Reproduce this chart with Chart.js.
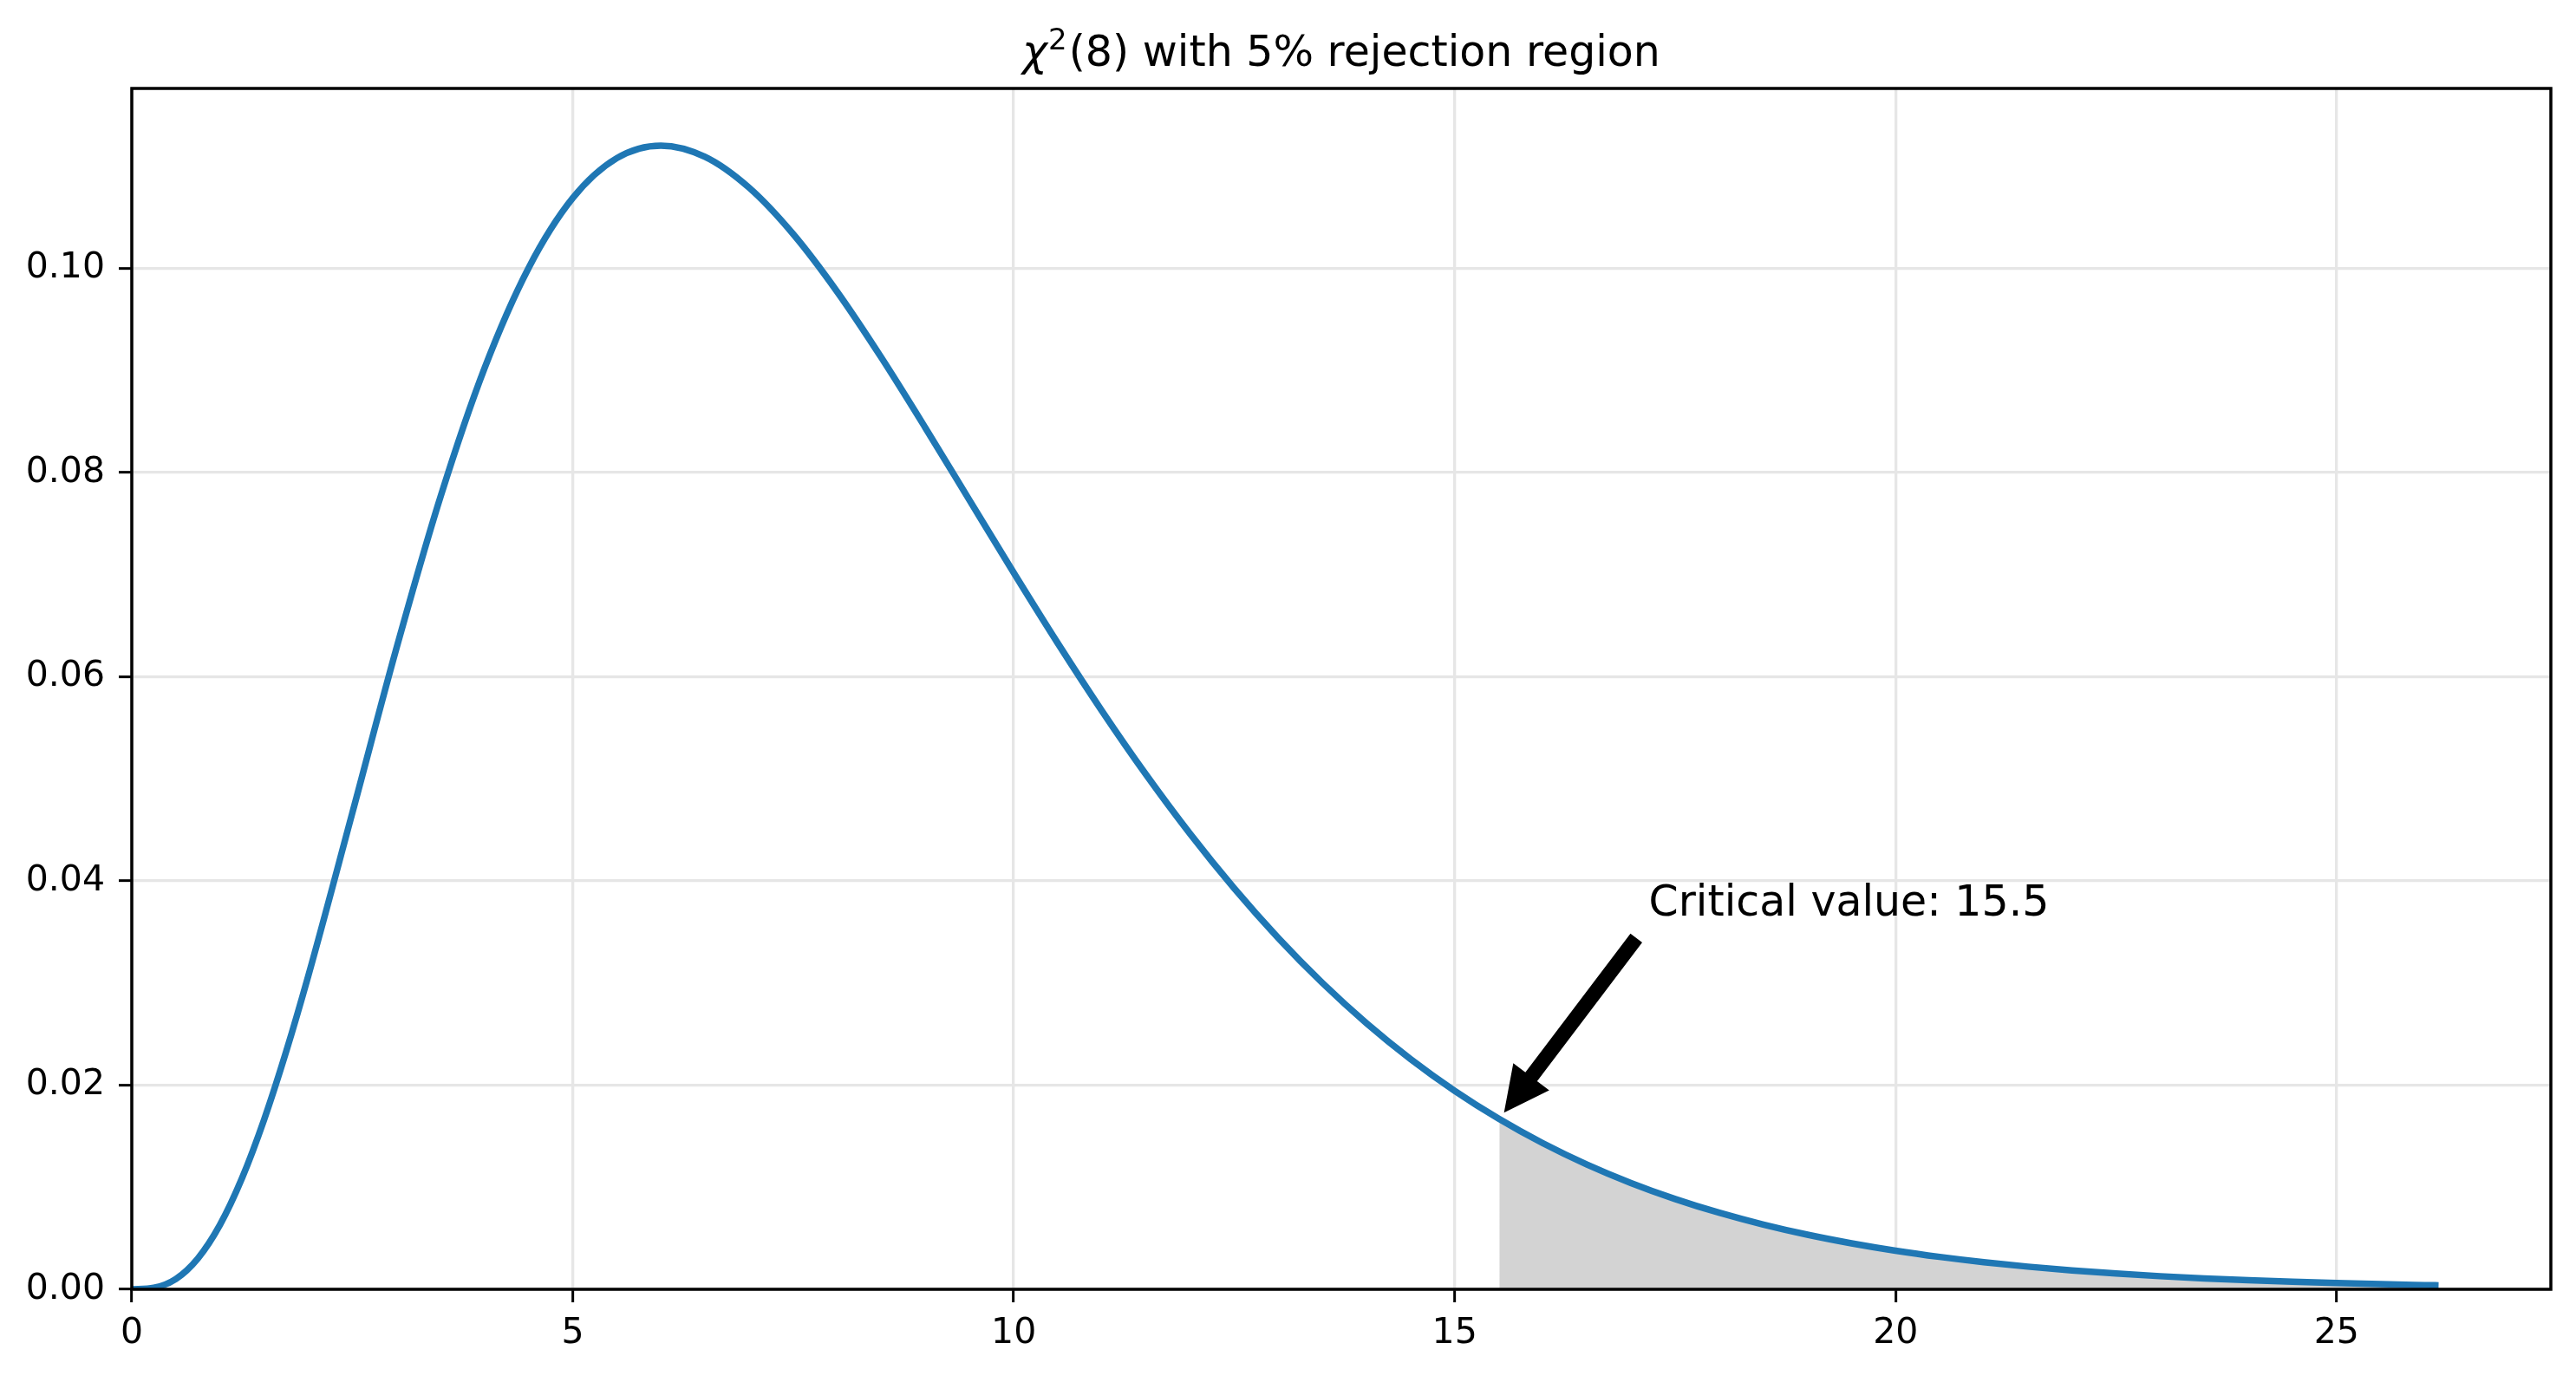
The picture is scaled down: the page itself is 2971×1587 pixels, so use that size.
<!DOCTYPE html>
<html>
<head>
<meta charset="utf-8">
<script src="https://cdn.jsdelivr.net/npm/chart.js@4/dist/chart.umd.min.js"></script>
<style>
  html, body { margin: 0; padding: 0; background: #ffffff; }
  #wrap { width: 2971px; height: 1587px; position: relative; }
  canvas { display: block; }
</style>
</head>
<body>
<div id="wrap"><canvas id="c" width="2971" height="1587"></canvas></div>
<script>
// ---- Data ----
const curveX = [0, 0.25, 0.5, 0.75, 1, 1.25, 1.5, 1.75, 2, 2.5, 3, 3.5, 4, 4.5, 5, 5.5, 6, 6.5, 7, 7.5, 8, 8.5, 9, 9.5,
  10, 10.5, 11, 11.5, 12, 12.5, 13, 13.5, 14, 14.5, 15, 15.5, 16, 16.5, 17, 17.5, 18, 18.5, 19, 19.5,
  20, 20.5, 21, 21.5, 22, 22.5, 23, 23.5, 24, 24.5, 25, 25.5, 26, 26.12];
const curveY = [0, 0.000144, 0.001014, 0.003034, 0.006318, 0.010890, 0.016607, 0.023272, 0.030657, 0.046632, 0.062755, 0.077610,
  0.090223, 0.100047, 0.106882, 0.110792, 0.112021, 0.110920, 0.107893, 0.103350, 0.097686, 0.091249,
  0.084359, 0.077268, 0.070187, 0.063278, 0.056662, 0.050423, 0.044618, 0.039276, 0.034406, 0.030009,
  0.026065, 0.022553, 0.019444, 0.016709, 0.014313, 0.012225, 0.010413, 0.008846, 0.007497, 0.006339,
  0.005348, 0.004503, 0.003783, 0.003173, 0.002656, 0.002220, 0.001853, 0.001543, 0.001284, 0.001067,
  0.000885, 0.000733, 0.000607, 0.000501, 0.000414, 0.000395];
const regionX = [15.507, 16, 16.5, 17, 17.5, 18, 18.5, 19, 19.5, 20, 20.5, 21, 21.5, 22, 22.5, 23, 23.5,
  24, 24.5, 25, 25.5, 26, 26.12];
const regionY = [0.016673, 0.014313, 0.012225, 0.010413, 0.008846, 0.007497, 0.006339, 0.005348, 0.004503,
  0.003783, 0.003173, 0.002656, 0.002220, 0.001853, 0.001543, 0.001284, 0.001067, 0.000885, 0.000733,
  0.000607, 0.000501, 0.000414, 0.000395];
const xTicks = [0, 5, 10, 15, 20, 25];
const yTicks = [0, 0.02, 0.04, 0.06, 0.08, 0.10];
const xRange = [0, 27.43];
const yRange = [0, 0.11762];
const titleParts = { chi: "χ", sup: "2", rest: "(8) with 5% rejection region" };
const annotationText = "Critical value: 15.5";
const annotationTextAt = [17.2, 0.0366];
const arrowFrom = [17.06, 0.0344];
const arrowTo = [15.56, 0.0173];

// ---- Styling ----
const FONT = "'DejaVu Sans', sans-serif";
const curvePts = curveX.map((x, i) => ({ x: x, y: curveY[i] }));
const regionPts = regionX.map((x, i) => ({ x: x, y: regionY[i] }));

const framePlugin = {
  id: 'frame',
  afterDraw(chart) {
    const ctx = chart.ctx;
    const a = chart.chartArea;
    const xs = chart.scales.x, ys = chart.scales.y;
    ctx.save();
    // frame
    ctx.strokeStyle = '#000000';
    ctx.lineWidth = 3.5;
    ctx.strokeRect(a.left, a.top, a.right - a.left, a.bottom - a.top);
    // arrow
    const tx = xs.getPixelForValue(arrowFrom[0]), ty = ys.getPixelForValue(arrowFrom[1]);
    const hx = xs.getPixelForValue(arrowTo[0]), hy = ys.getPixelForValue(arrowTo[1]);
    const dx = hx - tx, dy = hy - ty;
    const L = Math.sqrt(dx * dx + dy * dy);
    const ux = dx / L, uy = dy / L;
    const nx = -uy, ny = ux;
    const shaftW = 17, headW = 52, headL = 52;
    const bx = hx - ux * headL, by = hy - uy * headL;
    ctx.fillStyle = '#000000';
    ctx.beginPath();
    ctx.moveTo(tx + nx * shaftW / 2, ty + ny * shaftW / 2);
    ctx.lineTo(bx + nx * shaftW / 2, by + ny * shaftW / 2);
    ctx.lineTo(bx + nx * headW / 2, by + ny * headW / 2);
    ctx.lineTo(hx, hy);
    ctx.lineTo(bx - nx * headW / 2, by - ny * headW / 2);
    ctx.lineTo(bx - nx * shaftW / 2, by - ny * shaftW / 2);
    ctx.lineTo(tx - nx * shaftW / 2, ty - ny * shaftW / 2);
    ctx.closePath();
    ctx.fill();
    // annotation text
    ctx.font = '49px ' + FONT;
    ctx.textAlign = 'left';
    ctx.textBaseline = 'alphabetic';
    ctx.fillText(annotationText, xs.getPixelForValue(annotationTextAt[0]), ys.getPixelForValue(annotationTextAt[1]));
    // title
    const cx = (a.left + a.right) / 2;
    const base = 76;
    ctx.font = 'italic 49px ' + FONT;
    const w1 = ctx.measureText(titleParts.chi).width;
    ctx.font = '34px ' + FONT;
    const w2 = ctx.measureText(titleParts.sup).width;
    ctx.font = '49px ' + FONT;
    const w3 = ctx.measureText(titleParts.rest).width;
    let x0 = cx - (w1 + w2 + 3 + w3) / 2;
    ctx.font = 'italic 49px ' + FONT;
    ctx.fillText(titleParts.chi, x0, base);
    x0 += w1 + 1;
    ctx.font = '34px ' + FONT;
    ctx.fillText(titleParts.sup, x0, base - 19);
    x0 += w2 + 2;
    ctx.font = '49px ' + FONT;
    ctx.fillText(titleParts.rest, x0, base);
    ctx.restore();
  }
};

new Chart(document.getElementById('c'), {
  type: 'line',
  data: {
    datasets: [
      {
        data: curvePts,
        borderColor: '#1f77b4',
        borderWidth: 7.5,
        borderCapStyle: 'square',
        pointRadius: 0,
        fill: false,
        cubicInterpolationMode: 'monotone',
        order: 0
      },
      {
        data: regionPts,
        borderWidth: 0,
        borderColor: 'rgba(0,0,0,0)',
        backgroundColor: '#d3d3d3',
        pointRadius: 0,
        fill: 'origin',
        cubicInterpolationMode: 'monotone',
        order: 1
      }
    ]
  },
  options: {
    responsive: false,
    animation: false,
    devicePixelRatio: 1,
    layout: { padding: { top: 102, right: 29, left: 0, bottom: 0 } },
    plugins: { legend: { display: false }, title: { display: false }, tooltip: { enabled: false } },
    scales: {
      x: {
        type: 'linear',
        min: xRange[0],
        max: xRange[1],
        afterBuildTicks: s => { s.ticks = xTicks.map(v => ({ value: v })); },
        afterFit: s => { s.height = 100; },
        grid: { color: '#e6e6e6', lineWidth: 3.3, tickLength: 15, tickColor: '#000000', tickWidth: 3, drawTicks: true },
        border: { display: false },
        ticks: { color: '#000000', font: { family: FONT, size: 41 }, padding: 12, maxRotation: 0, autoSkip: false,
          callback: v => String(v) }
      },
      y: {
        type: 'linear',
        min: yRange[0],
        max: yRange[1],
        afterBuildTicks: s => { s.ticks = yTicks.map(v => ({ value: v })); },
        afterFit: s => { s.width = 152; },
        grid: { color: '#e6e6e6', lineWidth: 3.3, tickLength: 15, tickColor: '#000000', tickWidth: 3, drawTicks: true },
        border: { display: false },
        ticks: { color: '#000000', font: { family: FONT, size: 41 }, padding: 16, autoSkip: false,
          callback: v => Number(v).toFixed(2) }
      }
    }
  },
  plugins: [framePlugin]
});
</script>
</body>
</html>
